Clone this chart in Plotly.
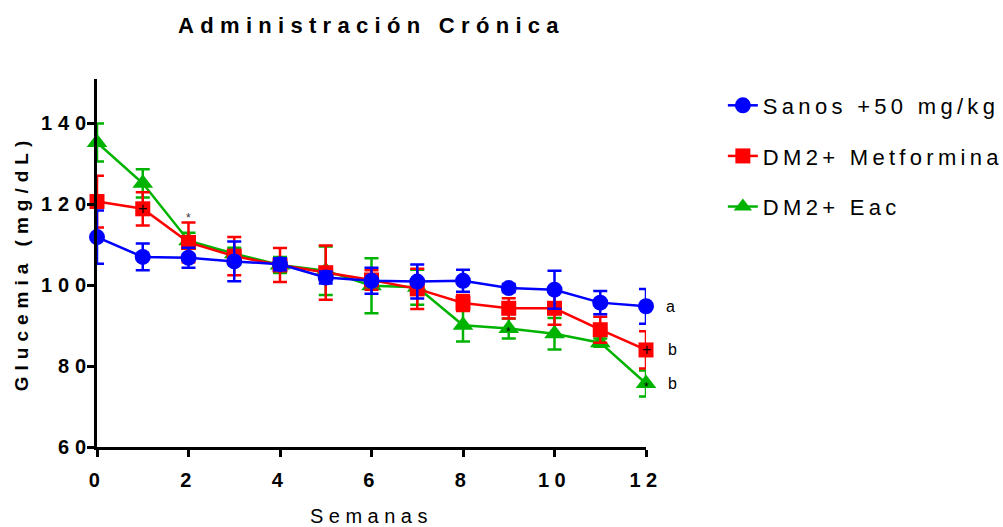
import plotly.graph_objects as go

# Weekly glucose follow-up (mean ± SEM)
weeks = list(range(13))

sanos = [111.9, 107.0, 106.8, 105.9, 105.2, 101.9, 101.1, 100.9, 101.1, 99.3, 98.9, 95.7, 94.8]
sanos_sem = [6.6, 3.3, 2.5, 4.9, 1.5, 1.5, 3.2, 4.2, 2.7, 1.0, 4.7, 2.9, 4.3]

metf = [120.7, 118.9, 110.6, 107.2, 105.0, 103.1, 101.3, 99.1, 95.6, 94.3, 94.3, 89.0, 84.0]
metf_sem = [6.4, 4.1, 4.9, 4.7, 4.2, 6.7, 2.4, 5.0, 2.0, 2.5, 4.1, 3.2, 4.6]

eac = [135.3, 125.2, 111.0, 107.8, 105.0, 103.6, 99.9, 99.5, 90.1, 89.3, 88.0, 85.8, 75.7]
eac_sem = [4.7, 3.5, 2.0, 1.5, 2.0, 6.0, 6.8, 4.3, 4.0, 2.5, 3.9, 1.0, 3.2]

series_names = ["Sanos +50 mg/kg", "DM2+ Metformina", "DM2+ Eac"]
group_letters = ["a", "b", "b"]

# Small significance symbols drawn on individual points: (series index, week, symbol)
point_marks = [(1, 1, "+"), (1, 12, "+"), (2, 9, "*"), (2, 12, "*")]
above_marks = [(1, 2, "*")]

BLUE = "#0000FF"
RED = "#FF0000"
GREEN = "#00B300"
FONT = "Arial, Liberation Sans, sans-serif"

data = [
    (sanos, sanos_sem, BLUE, "circle", 16),
    (metf, metf_sem, RED, "square", 15),
    (eac, eac_sem, GREEN, "triangle-up", 18),
]

fig = go.Figure()

# draw green first, blue last so blue sits on top; legend keeps series order
for idx in [2, 1, 0]:
    vals, sem, color, symbol, size = data[idx]
    fig.add_trace(go.Scatter(
        x=weeks, y=vals, name=series_names[idx],
        mode="lines+markers",
        line=dict(color=color, width=2.5),
        marker=dict(color=color, symbol=symbol, size=size, line=dict(width=0)),
        error_y=dict(type="data", array=sem, visible=True, color=color,
                     thickness=2.5, width=7),
        cliponaxis=False,
        legendgroup=f"g{idx}",
        legendrank=idx + 1,
    ))

annotations = []
for idx, letter in enumerate(group_letters):
    vals = data[idx][0]
    annotations.append(dict(
        x=weeks[-1], y=vals[-1], xref="x", yref="y", text=letter,
        showarrow=False, xanchor="left", xshift=18 + (2 if idx else 0),
        font=dict(family=FONT, size=16, color="black"),
    ))

for idx, wk, sym in point_marks:
    vals = data[idx][0]
    annotations.append(dict(
        x=wk, y=vals[wk], xref="x", yref="y", text=sym, showarrow=False,
        yshift=(0 if sym == "+" else -3),
        font=dict(family=FONT, size=(16 if sym == "+" else 12), color="black"),
    ))

for idx, wk, sym in above_marks:
    vals, sem = data[idx][0], data[idx][1]
    annotations.append(dict(
        x=wk, y=vals[wk] + sem[wk], xref="x", yref="y", text=sym,
        showarrow=False, yanchor="bottom", yshift=-4,
        font=dict(family=FONT, size=12, color="#333333"),
    ))

axis_common = dict(
    showline=True, linecolor="black", linewidth=2.5,
    ticks="outside", ticklen=7, tickwidth=2.5, tickcolor="black",
    showgrid=False, zeroline=False, automargin=False,
    tickfont=dict(family=FONT, size=20, color="black", weight="bold"),
)

fig.update_layout(
    width=1003, height=527,
    margin=dict(l=97, r=357, t=79, b=80, autoexpand=False),
    paper_bgcolor="white", plot_bgcolor="white",
    title=dict(text="Administración Crónica", x=0.5, xref="paper",
               y=1 - 25 / 527, yref="container", yanchor="middle", xanchor="center",
               font=dict(family=FONT, size=22, color="black", weight="bold")),
    xaxis=dict(range=[0, 12], tickvals=list(range(0, 13, 2)),
               ticklabelstandoff=6,
               title=dict(text="Semanas", standoff=24,
                          font=dict(family=FONT, size=20, color="black")),
               **axis_common),
    yaxis=dict(range=[60, 151], tickvals=list(range(60, 141, 20)),
               ticklabelstandoff=-9,
               title=dict(text="Glucemia (mg/dL)", standoff=26,
                          font=dict(family=FONT, size=19, color="black", weight="bold")),
               **axis_common),
    legend=dict(x=1.14, y=0.985, xanchor="left", yanchor="top",
                traceorder="grouped", tracegroupgap=19,
                font=dict(family=FONT, size=22, color="black"),
                bgcolor="rgba(0,0,0,0)"),
    annotations=annotations,
    showlegend=True,
)

post = """
var gd = document.getElementById('{plot_id}');
function spaceText(){
  var rules = [['.gtitle','6.3px'],['.legendtext','4.3px'],['.xtick text','5.5px'],
               ['.ytick text','6px'],['.xtitle','5.5px'],['.ytitle','6px']];
  rules.forEach(function(r){
    gd.querySelectorAll(r[0]).forEach(function(e){ e.style.letterSpacing = r[1]; });
  });
  gd.querySelectorAll('.legend .scrollbox').forEach(function(e){ e.removeAttribute('clip-path'); });
}
spaceText();
if (gd.on) { gd.on('plotly_afterplot', spaceText); }
setTimeout(spaceText, 50);
"""

fig.write_html("out.html", post_script=post)
